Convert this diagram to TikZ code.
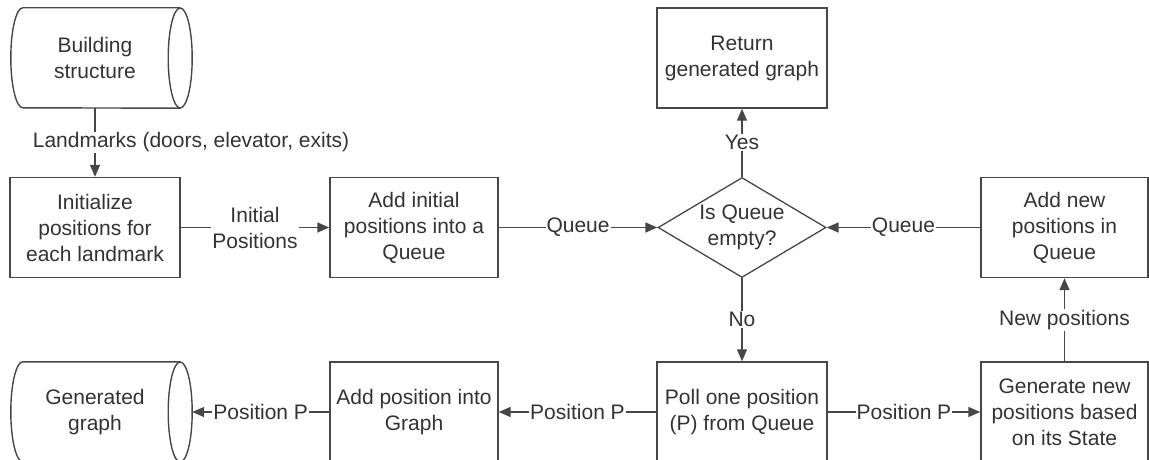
\documentclass[tikz,border=0pt]{standalone}
\usepackage{fontspec}
\setmainfont{Liberation Sans}
\usetikzlibrary{arrows.meta,shapes.geometric,calc}

\begin{document}
\begin{tikzpicture}[x=1pt,y=-1pt,
  txt/.style={font=\fontsize{21}{26}\selectfont, text=black!80},
  proc/.style={draw=black!72, line width=1.4pt, fill=white, minimum width=170pt, minimum height=100pt, align=center, inner sep=1pt, txt},
  store/.style={minimum width=170pt, minimum height=100pt, align=center, inner sep=0pt, txt},
  decision/.style={draw=black!72, line width=1.3pt, diamond, aspect=1.68, minimum width=168pt, minimum height=100pt, inner sep=0pt, align=center, txt},
  flow/.style={draw=black!72, line width=1.4pt},
  arr/.style={flow, -{Triangle[length=12pt,width=10pt]}},
  lbl/.style={fill=white, inner sep=1pt, txt, align=center}
]
\clip (0,0) rectangle (1149,460);
\fill[white] (0,0) rectangle (1149,460);

% nodes
\node[store] (bs) at (95,58) {Building\\structure};
\node[proc] (init) at (95,227.5) {Initialize\\positions for\\each landmark};
\node[proc, minimum width=168pt] (addi) at (414,227.5) {Add initial\\positions into a\\Queue};
\node[decision] (dec) at (742,227.5) {Is Queue\\empty?};
\node[proc] (ret) at (742,58) {Return\\generated graph};
\node[proc, minimum width=167pt] (addn) at (1064.5,227.5) {Add new\\positions in\\Queue};
\node[store] (gg) at (95,412) {Generated\\graph};
\node[proc, minimum width=168pt] (addp) at (414,412) {Add position into\\Graph};
\node[proc] (poll) at (742,412) {Poll one position\\(P) from Queue};
\node[proc, minimum width=167pt] (gen) at (1064.5,412) {Generate new\\positions based\\on its State};

% cylinder outlines
\draw[flow] (bs.north east) -- ([xshift=13pt]bs.north west)
  arc[start angle=90, end angle=270, x radius=12pt, y radius=50pt] -- (bs.south east);
\draw[flow] (bs.east) ellipse[x radius=12pt, y radius=50pt];
\draw[flow] (gg.north east) -- ([xshift=13pt]gg.north west)
  arc[start angle=90, end angle=270, x radius=12pt, y radius=50pt] -- (gg.south east);
\draw[flow] (gg.east) ellipse[x radius=12pt, y radius=50pt];
\coordinate (ggr) at ([xshift=12pt]gg.east);

% connectors
\draw[arr] (bs) -- node[lbl, xshift=96pt]{Landmarks (doors, elevator, exits)} (init);
\draw[arr] (init) -- node[lbl]{Initial\\Positions} (addi);
\draw[arr] (addi) -- node[lbl]{Queue} (dec);
\draw[arr] (dec) -- node[lbl]{Yes} (ret);
\draw[arr] (dec) -- node[lbl]{No} (poll);
\draw[arr] (addn) -- node[lbl]{Queue} (dec);
\draw[arr] (poll) -- node[lbl]{Position P} (addp);
\draw[arr] (addp) -- node[lbl]{Position P} (ggr);
\draw[arr] (poll) -- node[lbl]{Position P} (gen);
\draw[arr] (gen) -- node[lbl]{New positions} (addn);
\end{tikzpicture}
\end{document}
